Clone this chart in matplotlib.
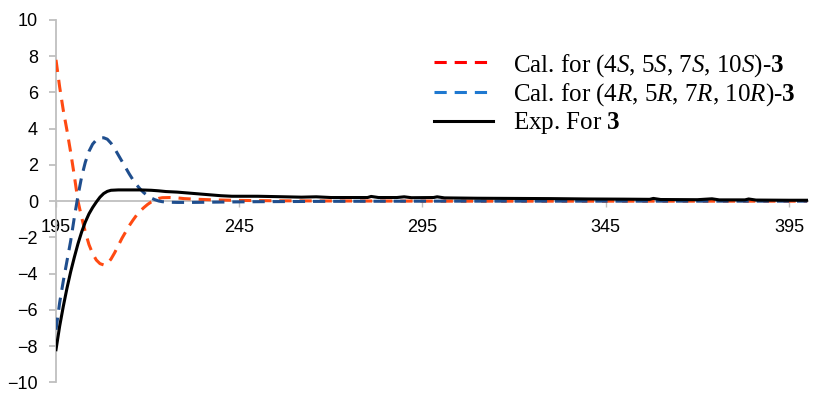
import numpy as np
import matplotlib
matplotlib.use('Agg')
import matplotlib.pyplot as plt
from matplotlib.lines import Line2D

plt.rcParams['font.family'] = ['Liberation Sans', 'DejaVu Sans']
plt.rcParams['mathtext.fontset'] = 'custom'
plt.rcParams['mathtext.rm'] = 'Liberation Serif'
plt.rcParams['mathtext.it'] = 'Liberation Serif:italic'
plt.rcParams['mathtext.bf'] = 'Liberation Serif:bold'

# calculated ECD, (4S,5S,7S,10S)-3
wl_s = [195, 196, 197, 198, 199, 200, 201, 202, 203, 204, 205, 206, 207, 208,
        209, 210, 211, 212, 213, 214, 215, 216, 217, 218, 219, 220, 221, 222,
        223, 224, 226, 228, 230, 234, 238, 245, 255, 270, 300, 350, 400]
cd_s = [7.8, 6.3, 5.0, 3.9, 2.7, 1.4, 0.0, -0.9, -1.7, -2.4, -2.9, -3.25, -3.45, -3.52,
        -3.45, -3.2, -2.85, -2.45, -2.05, -1.7, -1.35, -1.05, -0.77, -0.54, -0.35, -0.18, -0.04, 0.07,
        0.15, 0.19, 0.2, 0.18, 0.14, 0.1, 0.07, 0.04, 0.02, 0.01, 0.0, 0.0, 0.0]

# calculated ECD, (4R,5R,7R,10R)-3
wl_r = [195, 196, 197, 198, 199, 200, 201, 202, 203, 204, 205, 206, 207, 208,
        209, 210, 211, 212, 213, 214, 215, 216, 217, 218, 219, 220, 221, 222,
        223, 224, 226, 228, 232, 240, 250, 270, 300, 350, 400]
cd_r = [-7.1, -5.6, -4.4, -3.3, -2.2, -0.9, 0.3, 1.35, 2.15, 2.75, 3.15, 3.38, 3.48, 3.5,
        3.42, 3.2, 2.9, 2.55, 2.2, 1.85, 1.5, 1.18, 0.9, 0.66, 0.46, 0.3, 0.17, 0.08,
        0.01, -0.03, -0.06, -0.07, -0.07, -0.05, -0.03, -0.01, 0.0, 0.0, 0.0]

# experimental ECD of 3
wl_exp = [195, 196, 197, 198, 199, 200, 201, 202, 203, 204, 205, 206, 207, 208,
          209, 210, 212, 215, 218, 221, 223, 225, 228, 231, 234, 237, 240, 243,
          250, 255, 262, 266, 270, 275, 280, 281, 283, 288, 290, 292, 298, 299,
          301, 310, 320, 330, 340, 350, 357, 358, 360, 370, 374, 376, 383, 384,
          386, 395, 400]
cd_exp = [-8.2, -6.9, -5.8, -4.8, -3.9, -3.1, -2.35, -1.7, -1.15, -0.7, -0.35, -0.05, 0.22, 0.42,
          0.54, 0.6, 0.62, 0.62, 0.62, 0.6, 0.57, 0.53, 0.5, 0.45, 0.4, 0.35, 0.3, 0.27,
          0.27, 0.25, 0.22, 0.24, 0.2, 0.2, 0.2, 0.26, 0.2, 0.2, 0.24, 0.19, 0.2, 0.24,
          0.18, 0.16, 0.15, 0.14, 0.12, 0.11, 0.1, 0.15, 0.09, 0.08, 0.13, 0.07, 0.07, 0.12,
          0.06, 0.05, 0.05]

x_ticks = [195, 245, 295, 345, 395]
y_ticks = [-10, -8, -6, -4, -2, 0, 2, 4, 6, 8, 10]

labels = [r'Cal. for (4$\mathit{S}$, 5$\mathit{S}$, 7$\mathit{S}$, 10$\mathit{S}$)-$\mathbf{3}$',
          r'Cal. for (4$\mathit{R}$, 5$\mathit{R}$, 7$\mathit{R}$, 10$\mathit{R}$)-$\mathbf{3}$',
          r'Exp. For $\mathbf{3}$']

fig = plt.figure(figsize=(8.13, 3.94), dpi=100)
ax = fig.add_axes([56 / 813, 11.7 / 394, 752 / 813, 362.3 / 394])

ax.plot(wl_s, cd_s, color='#FF4A12', lw=2.2, dashes=(4, 2.6), zorder=3)
ax.plot(wl_r, cd_r, color='#1F4E8E', lw=2.2, dashes=(4, 2.6), zorder=3)
ax.plot(wl_exp, cd_exp, color='black', lw=2.2, zorder=4)

ax.set_xlim(195, 400.2)
ax.set_ylim(-10, 10)
ax.set_xticks(x_ticks)
ax.set_yticks(y_ticks)

gray = '#BFBFBF'
for side in ['top', 'right']:
    ax.spines[side].set_visible(False)
ax.spines['bottom'].set_position(('data', 0))
ax.spines['bottom'].set_color(gray)
ax.spines['left'].set_color(gray)
ax.spines['bottom'].set_linewidth(1.3)
ax.spines['left'].set_linewidth(1.3)
ax.tick_params(axis='x', colors=gray, labelcolor='black', length=4, width=1,
               labelsize=13, pad=9)
ax.tick_params(axis='y', colors=gray, labelcolor='black', length=5, width=1.3,
               labelsize=13, pad=8)
for t in ax.get_xticklabels():
    t.set_zorder(1)

handles = [Line2D([], [], color='#FF0000', lw=2.2, dashes=(4, 2.6)),
           Line2D([], [], color='#1E78D0', lw=2.2, dashes=(4, 2.6)),
           Line2D([], [], color='black', lw=2.2)]
ax.legend(handles, labels, loc='upper left', bbox_to_anchor=(0.49, 0.94),
          frameon=False, prop={'family': 'Liberation Serif', 'size': 18},
          handlelength=2.35, handletextpad=0.8, labelspacing=0.1,
          borderaxespad=0)

fig.savefig('out.png', dpi=100)
